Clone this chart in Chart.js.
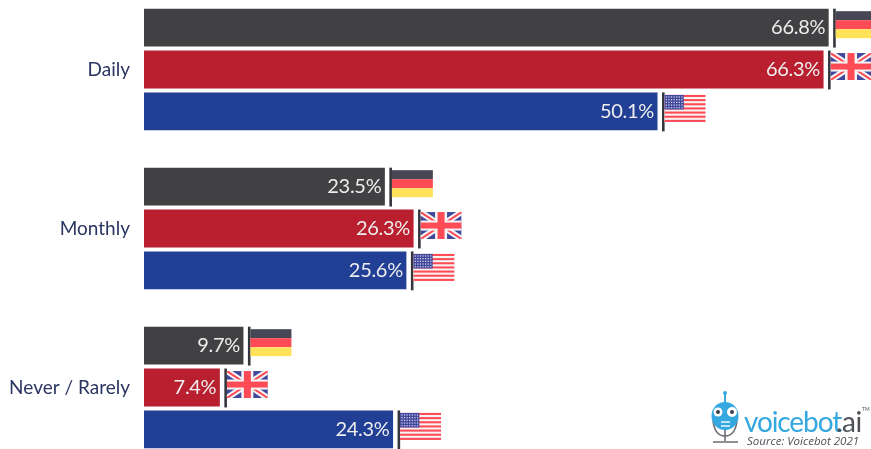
<!DOCTYPE html>
<html>
<head>
<meta charset="utf-8">
<title>Voice assistant use</title>
<script src="https://cdn.jsdelivr.net/npm/chart.js@4"></script>
<style>
html, body { margin: 0; padding: 0; background: #fff; width: 871px; height: 449px; overflow: hidden; }
#wrap { position: absolute; left: 0; top: -10px; width: 871px; height: 477px; }
canvas { filter: blur(0.45px); }
</style>
</head>
<body>
<div id="wrap"><canvas id="chart" width="871" height="477"></canvas></div>
<script>
var categories = ["Daily", "Monthly", "Never / Rarely"];
var germany = [66.8, 23.5, 9.7];
var uk = [66.3, 26.3, 7.4];
var usa = [50.1, 25.6, 24.3];

// flag painters, x/y is the top left corner
function flagGermany(ctx, x, y, w, h) {
	ctx.fillStyle = "#464655"; ctx.fillRect(x, y, w, h / 3);
	ctx.fillStyle = "#ff4b55"; ctx.fillRect(x, y + h / 3, w, h / 3);
	ctx.fillStyle = "#ffe15a"; ctx.fillRect(x, y + 2 * h / 3, w, h / 3);
}

function flagUk(ctx, x, y, w, h) {
	ctx.save();
	ctx.beginPath(); ctx.rect(x, y, w, h); ctx.clip();
	ctx.fillStyle = "#41479b"; ctx.fillRect(x, y, w, h);
	ctx.strokeStyle = "#f5f5f5"; ctx.lineWidth = 6;
	ctx.beginPath();
	ctx.moveTo(x, y); ctx.lineTo(x + w, y + h);
	ctx.moveTo(x + w, y); ctx.lineTo(x, y + h);
	ctx.stroke();
	ctx.strokeStyle = "#ff4b55"; ctx.lineWidth = 2;
	ctx.stroke();
	ctx.fillStyle = "#f5f5f5";
	ctx.fillRect(x, y + h / 2 - 5, w, 10);
	ctx.fillRect(x + w / 2 - 6, y, 12, h);
	ctx.fillStyle = "#ff4b55";
	ctx.fillRect(x, y + h / 2 - 3, w, 6);
	ctx.fillRect(x + w / 2 - 3.5, y, 7, h);
	ctx.restore();
}

function flagUsa(ctx, x, y, w, h) {
	var i, j;
	ctx.fillStyle = "#f5f5f5"; ctx.fillRect(x, y, w, h);
	ctx.fillStyle = "#ff4b55";
	for (i = 0; i < 13; i += 2) {
		ctx.fillRect(x, y + i * h / 13, w, h / 13);
	}
	ctx.fillStyle = "#41479b"; ctx.fillRect(x, y, w * 0.47, h * 0.54);
	ctx.fillStyle = "#c9cbe6";
	for (i = 0; i < 5; i++) {
		for (j = 0; j < 7; j++) {
			ctx.fillRect(x + 1.2 + j * 2.6, y + 1.4 + i * 2.7, 1.3, 1.3);
		}
	}
}

var flags = [flagGermany, flagUk, flagUsa];

// white value, black stick and flag at the end of each bar
var barEnds = {
	id: "barEnds",
	afterDatasetsDraw: function(chart) {
		var ctx = chart.ctx;
		chart.data.datasets.forEach(function(ds, d) {
			chart.getDatasetMeta(d).data.forEach(function(bar, i) {
				var top = bar.y - bar.height / 2;
				ctx.fillStyle = "#eeeeee";
				ctx.font = "20px Lato";
				ctx.letterSpacing = "-0.3px";
				ctx.textAlign = "right";
				ctx.textBaseline = "middle";
				ctx.fillText(ds.data[i].toFixed(1) + "%", bar.x - 3.5, bar.y);
				ctx.letterSpacing = "0px";
				ctx.fillStyle = "#33363b";
				ctx.fillRect(bar.x + 4.5, top, 2.6, bar.height + 1);
				flags[d](ctx, bar.x + 7, top + 2.5, 41, 27);
			});
		});
	}
};

// logo in the bottom right corner
var logo = {
	id: "logo",
	afterDraw: function(chart) {
		var ctx = chart.ctx;
		var oy = 10;
		ctx.save();
		ctx.translate(0, oy);
		ctx.strokeStyle = "#6b6e72"; ctx.lineWidth = 1.6;
		ctx.beginPath();
		ctx.moveTo(725, 428); ctx.lineTo(725, 441);
		ctx.moveTo(713, 442); ctx.lineTo(738, 442);
		ctx.moveTo(713, 421); ctx.quadraticCurveTo(715, 436, 725, 436); ctx.quadraticCurveTo(735, 436, 737, 421);
		ctx.stroke();
		ctx.fillStyle = "#35a8e0";
		ctx.fillRect(724, 393, 2, 12);
		ctx.beginPath(); ctx.arc(725, 393, 2, 0, Math.PI * 2); ctx.fill();
		ctx.beginPath(); ctx.ellipse(725, 416, 13.5, 14, 0, 0, Math.PI * 2); ctx.fill();
		ctx.fillStyle = "#ffffff";
		ctx.beginPath(); ctx.arc(718, 412, 4.5, 0, Math.PI * 2); ctx.fill();
		ctx.beginPath(); ctx.arc(732, 412, 5, 0, Math.PI * 2); ctx.fill();
		ctx.fillStyle = "#3b3f46";
		ctx.beginPath(); ctx.arc(718, 412, 2, 0, Math.PI * 2); ctx.fill();
		ctx.beginPath(); ctx.arc(732, 412, 2, 0, Math.PI * 2); ctx.fill();
		ctx.fillStyle = "#bfe4f6";
		ctx.fillRect(721, 421, 9, 2); ctx.fillRect(721, 425, 9, 2);
		ctx.textAlign = "left";
		ctx.textBaseline = "alphabetic";
		ctx.fillStyle = "#35a8e0";
		ctx.font = "28px Lato";
		ctx.letterSpacing = "-1.1px";
		ctx.fillText("voicebot", 744, 432);
		ctx.fillStyle = "#4d5156";
		ctx.letterSpacing = "-0.5px";
		ctx.fillText(".ai", 836, 432);
		ctx.letterSpacing = "0px";
		ctx.font = "5px Lato";
		ctx.fillText("TM", 862, 411);
		ctx.font = "italic 11.5px 'Open Sans'";
		ctx.fillText("Source: Voicebot 2021", 747, 445);
		ctx.restore();
	}
};

new Chart(document.getElementById("chart"), {
	type: "bar",
	data: {
		labels: categories,
		datasets: [
			{ label: "Germany", data: germany, backgroundColor: "#414042" },
			{ label: "UK", data: uk, backgroundColor: "#b91f2e" },
			{ label: "USA", data: usa, backgroundColor: "#203f95" }
		]
	},
	options: {
		indexAxis: "y",
		responsive: false,
		animation: false,
		categoryPercentage: 0.79,
		barPercentage: 0.905,
		layout: { padding: 0 },
		plugins: { legend: { display: false }, tooltip: { enabled: false } },
		scales: {
			x: { display: false, min: 0, max: 70.93 },
			y: {
				grid: { display: false },
				border: { display: false },
				afterFit: function(scale) {
					scale.width = 144;
					scale.paddingTop = 0;
					scale.paddingBottom = 0;
				},
				ticks: { color: "#2b3562", font: { family: "Lato", size: 19 }, padding: 6 }
			}
		}
	},
	plugins: [barEnds, logo]
});
</script>
</body>
</html>
